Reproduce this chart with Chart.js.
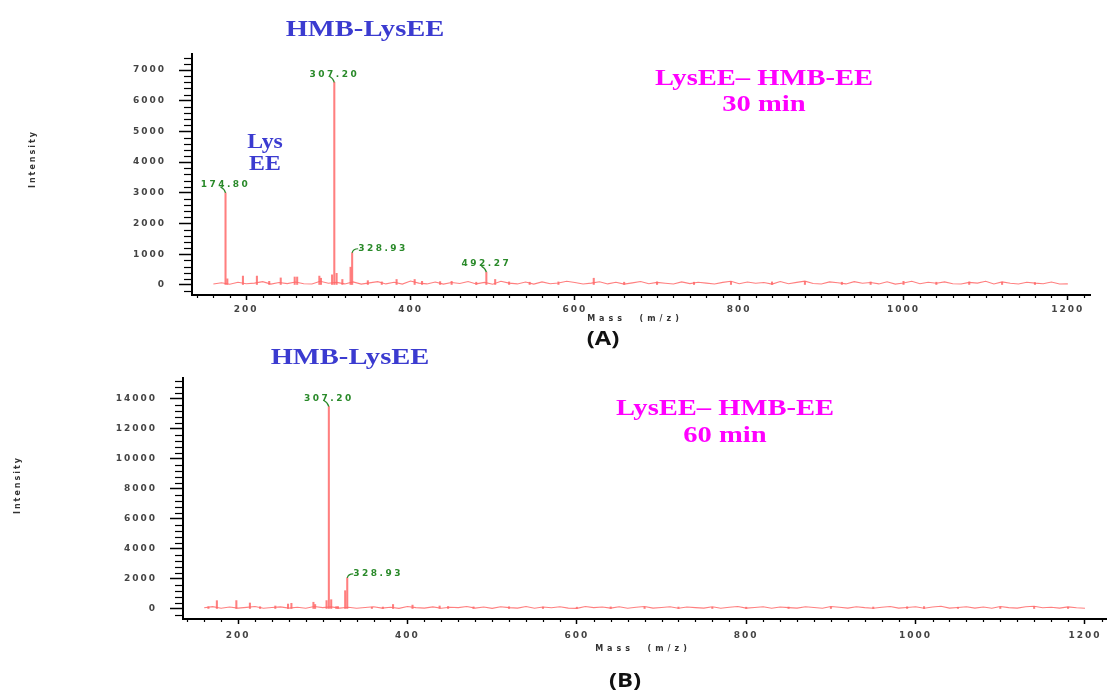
<!DOCTYPE html>
<html><head><meta charset="utf-8">
<script src="https://cdn.jsdelivr.net/npm/chart.js@4.4.0/dist/chart.umd.min.js"></script>
<style>
html,body{margin:0;padding:0;background:#fff;width:1107px;height:690px;overflow:hidden;}
#wrap{position:relative;width:1107px;height:690px;}
canvas{position:absolute;left:0;}
.t{position:absolute;white-space:nowrap;font-family:"Liberation Serif","Times New Roman",serif;font-weight:bold;transform:translate(-50%,-50%) scaleX(1.19);line-height:1;}
.blue{color:#3b3bd0;font-size:24px;}
.blue2{color:#3b3bd0;font-size:20px;}
.mag{color:#ff00ff;font-size:24px;}
.lab{font-family:"Open Sans",sans-serif;color:#111;font-size:20px;}
</style></head>
<body><div id="wrap">
<canvas id="cA" width="1107" height="345" style="top:0;width:1107px;height:345px"></canvas>
<canvas id="cB" width="1107" height="345" style="top:345px;width:1107px;height:345px"></canvas>
<div class="t blue" style="left:365px;top:28px">HMB-LysEE</div>
<div class="t mag" style="left:764px;top:77px">LysEE– HMB-EE</div>
<div class="t mag" style="left:764px;top:103px">30 min</div>
<div class="t blue2" style="left:265px;top:141px">Lys</div>
<div class="t blue2" style="left:265px;top:163px">EE</div>
<div class="t lab" style="left:603px;top:338px">(A)</div>
<div class="t blue" style="left:350px;top:356px">HMB-LysEE</div>
<div class="t mag" style="left:725px;top:407px">LysEE– HMB-EE</div>
<div class="t mag" style="left:725px;top:434px">60 min</div>
<div class="t lab" style="left:625px;top:680px">(B)</div>
</div>
<script>
// ---------- data ----------
const xTickLabels = [200, 400, 600, 800, 1000, 1200];
const yTickLabelsA = [0, 1000, 2000, 3000, 4000, 5000, 6000, 7000];
const yTickLabelsB = [0, 2000, 4000, 6000, 8000, 10000, 12000, 14000];

// baseline sampled every 10 m/z from 160 to 1200
const baselineMz = Array.from({length: 105}, (_, i) => 160 + 10 * i);
const baselineA = [
  30,75,25,90,40,60,110,30,80,45,
  95,40,30,120,55,85,35,100,30,70,
  110,35,90,30,130,60,35,95,30,80,
  50,115,35,85,25,120,60,35,95,30,
  100,40,65,120,80,30,60,105,35,90,
  30,70,115,40,85,55,30,100,45,90,
  60,30,85,120,40,95,55,80,30,115,
  40,85,125,50,30,100,75,35,110,55,
  80,35,105,30,65,120,40,90,55,100,
  40,30,85,60,120,35,100,55,30,90,
  60,40,95,30,35];
const baselineB = [
  80,160,50,130,60,110,170,50,100,140,
  60,120,50,170,90,140,60,120,50,100,
  150,60,120,40,170,90,60,140,50,120,
  90,170,60,130,40,150,90,60,170,50,
  130,80,150,60,40,170,90,130,60,150,
  50,120,170,60,100,150,50,130,90,60,
  150,50,120,170,60,100,150,50,130,90,
  60,150,100,50,170,120,60,150,90,50,
  120,170,60,100,150,50,130,180,60,100,
  150,60,130,50,170,90,60,150,180,80,
  120,60,140,80,50];

// peaks (m/z, intensity)
const peakMzA  = [174.8,177,196,213,228,242,259,262,289,291,304.5,307.2,310,317,327,328.93,348,365,383,405,414,436,450,480,492.27,503,520,545,580,623,660,700,745,790,840,880,925,960,1000,1040,1080,1120,1160];
const peakIntA = [3000,200,290,290,120,230,260,260,290,220,330,6600,380,180,580,1050,140,100,180,180,120,110,120,90,420,180,100,90,100,220,90,100,90,110,100,110,90,100,120,90,100,90,80];
const peakMzB  = [165,175,198,214,226,244,259,263,289,291,304.5,307.2,310,316,318,326.5,328.93,358,371,383,406,438,448,478,520,560,600,640,680,720,760,800,850,900,950,990,1010,1050,1100,1140,1180];
const peakIntB = [155,555,560,400,150,200,330,380,450,300,560,13500,620,160,160,1220,2080,120,130,300,260,200,170,140,150,130,120,140,120,130,110,120,130,140,130,150,160,120,130,160,120];

// labelled peaks
const labelMzA = [174.80, 307.20, 328.93, 492.27];
const labelTextA = ['174.80', '307.20', '328.93', '492.27'];
const labelSideA = ['c', 'c', 'r', 'c'];
const labelMzB = [307.20, 328.93];
const labelTextB = ['307.20', '328.93'];
const labelSideB = ['c', 'r'];

// ---------- drawing ----------
const LINE = 'rgba(255,105,105,0.85)';
const TICKFONT = {family: 'DejaVu Sans', size: 9, weight: 'bold'};

function build(id, o) {
  const baseData = baselineMz.map((m, i) => ({x: m, y: o.base[i]}));
  const peakData = o.pMz.map((m, i) => ({x: m, y: o.pInt[i]}));
  const extra = {
    id: 'extra' + id,
    beforeDraw(c) { c.ctx.letterSpacing = '2px'; },
    afterDraw(c) {
      const ctx = c.ctx;
      ctx.letterSpacing = '0px';
      const xs = c.scales.x, ys = c.scales.y;
      ctx.save();
      ctx.strokeStyle = '#000'; ctx.lineWidth = 1.2;
      // minor x ticks
      for (let v = 140; v <= 1220; v += 20) {
        if (v % 200 === 0) continue;
        const px = Math.round(xs.getPixelForValue(v)) + 0.5;
        ctx.beginPath(); ctx.moveTo(px, ys.bottom); ctx.lineTo(px, ys.bottom + 3); ctx.stroke();
      }
      // minor y ticks
      for (let v = -o.yMinor; v <= o.yMax; v += o.yMinor) {
        if (v % o.yMajor === 0 && v >= 0) continue;
        const py = Math.round(ys.getPixelForValue(v)) + 0.5;
        if (py < ys.top || py > ys.bottom) continue;
        ctx.beginPath(); ctx.moveTo(xs.left - 8, py); ctx.lineTo(xs.left, py); ctx.stroke();
      }
      // peak labels
      ctx.fillStyle = '#2a8a2a'; ctx.strokeStyle = '#2a8a2a'; ctx.lineWidth = 1.2;
      ctx.font = 'bold 9px "DejaVu Sans"';
      ctx.letterSpacing = '2.5px';
      ctx.textBaseline = 'middle';
      o.lMz.forEach((m, i) => {
        const idx = o.pMz.indexOf(m);
        const px = xs.getPixelForValue(m), py = ys.getPixelForValue(o.pInt[idx]);
        ctx.beginPath();
        if (o.lSide[i] === 'r') {
          ctx.moveTo(px, py); ctx.quadraticCurveTo(px + 1, py - 4, px + 6, py - 4); ctx.stroke();
          ctx.textAlign = 'left'; ctx.fillText(o.lText[i], px + 6, py - 4);
        } else {
          ctx.moveTo(px, py); ctx.quadraticCurveTo(px - 1, py - 4, px - 5, py - 6); ctx.stroke();
          ctx.textAlign = 'center'; ctx.fillText(o.lText[i], px, py - 8);
        }
      });
      // axis titles
      ctx.fillStyle = '#333';
      ctx.font = 'bold 8px "DejaVu Sans"';
      ctx.letterSpacing = '2px';
      ctx.textAlign = 'center';
      ctx.save();
      ctx.translate(o.yTitle[0], o.yTitle[1]); ctx.rotate(-Math.PI / 2);
      ctx.fillText('Intensity', 0, 0);
      ctx.restore();
      ctx.letterSpacing = '4px';
      ctx.fillText('Mass  (m/z)', o.xTitle[0], o.xTitle[1]);
      ctx.restore();
      ctx.letterSpacing = '0px';
    }
  };
  return new Chart(document.getElementById(id), {
    type: 'bar',
    data: {datasets: [
      {type: 'line', data: baseData, borderColor: LINE, borderWidth: 1.1, pointRadius: 0, tension: 0, order: 2},
      {type: 'bar', data: peakData, backgroundColor: LINE, borderWidth: 0, barThickness: 1.4, order: 1}
    ]},
    options: {
      responsive: false, animation: false, events: [],
      layout: {padding: {left: 0, right: o.padR, top: o.padT, bottom: 0}},
      plugins: {legend: {display: false}, tooltip: {enabled: false}},
      scales: {
        x: {
          type: 'linear', min: o.xMin, max: o.xMax, offset: false,
          afterBuildTicks: s => { s.ticks = xTickLabels.map(v => ({value: v})); },
          afterFit: s => { s.height = o.xH; s.paddingLeft = 0; s.paddingRight = 0; },
          grid: {display: true, offset: false, drawOnChartArea: false, drawTicks: true, tickLength: 5, tickColor: '#000', tickWidth: 1.5, color: '#000'},
          border: {display: true, color: '#000', width: 2},
          ticks: {font: TICKFONT, color: '#444', padding: o.xPad, maxRotation: 0, autoSkip: false, callback: v => String(v)}
        },
        y: {
          type: 'linear', min: o.yMin, max: o.yMax,
          afterBuildTicks: s => { s.ticks = o.yTicks.map(v => ({value: v})); },
          afterFit: s => { s.width = o.yW; s.paddingTop = 0; s.paddingBottom = 0; },
          grid: {display: true, drawOnChartArea: false, drawTicks: true, tickLength: 13, tickColor: '#000', tickWidth: 1.5, color: '#000'},
          border: {display: true, color: '#000', width: 2},
          ticks: {font: TICKFONT, color: '#444', padding: 13, autoSkip: false, callback: v => String(v)}
        }
      }
    },
    plugins: [extra]
  });
}

build('cA', {
  base: baselineA, pMz: peakMzA, pInt: peakIntA,
  lMz: labelMzA, lText: labelTextA, lSide: labelSideA,
  xMin: 134, xMax: 1227, yMin: -326, yMax: 7521, yTicks: yTickLabelsA, yMinor: 200, yMajor: 1000,
  padR: 17, padT: 54, xH: 50, yW: 192, xPad: 4,
  yTitle: [33, 159], xTitle: [635, 319]
});
build('cB', {
  base: baselineB, pMz: peakMzB, pInt: peakIntB,
  lMz: labelMzB, lText: labelTextB, lSide: labelSideB,
  xMin: 135, xMax: 1226, yMin: -667, yMax: 15400, yTicks: yTickLabelsB, yMinor: 400, yMajor: 2000,
  padR: 0, padT: 33, xH: 71, yW: 183, xPad: 6,
  yTitle: [18, 140], xTitle: [643, 304]
});
</script>
</body></html>
